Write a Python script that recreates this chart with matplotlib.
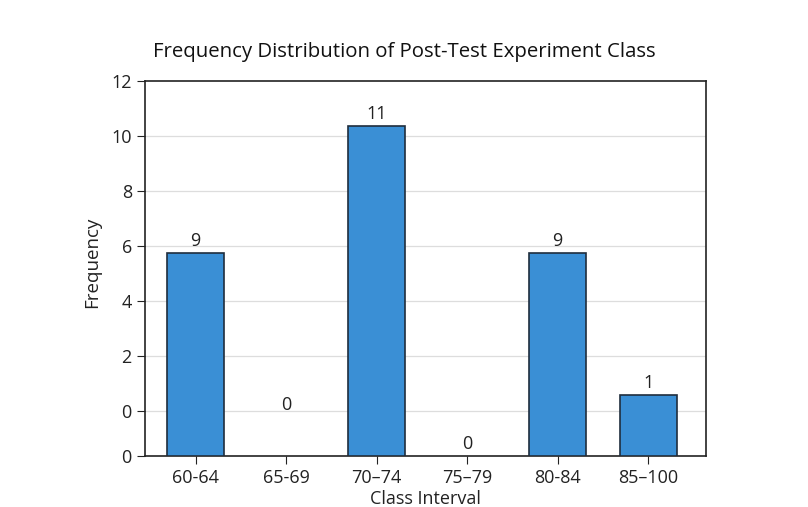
import matplotlib.pyplot as plt

plt.rcParams["font.family"] = ["Open Sans", "DejaVu Sans"]

classes = ["60-64", "65-69", "70–74", "75–79", "80-84", "85–100"]
counts = [9, 0, 11, 0, 9, 1]
# bar tops as drawn on the (odd) axis of the picture
bar_tops = [5.75, -0.2, 10.38, -1.64, 5.75, 0.58]
# the picture's y ticks: two zeros, the lower one at the floor of the axis
tick_vals = [-1.64, 0, 2, 4, 6, 8, 10, 12]
tick_labels = ["0", "0", "2", "4", "6", "8", "10", "12"]
floor = -1.64

fig = plt.figure(figsize=(8.08, 5.07), dpi=100)
ax = fig.add_axes([145 / 808, 1 - 456 / 507, 561 / 808, 375 / 507])

x = range(len(classes))
for i in x:
    if counts[i] > 0:
        ax.bar(
            i,
            bar_tops[i] - floor,
            bottom=floor,
            width=0.63,
            color="#3a8fd5",
            edgecolor="#1f2d3d",
            linewidth=1.2,
            zorder=3
        )
    ax.annotate(
        str(counts[i]),
        (i, bar_tops[i]),
        xytext=(0, 2),
        textcoords="offset points",
        ha="center",
        va="bottom",
        fontsize=13,
        color="#222222"
    )

ax.set_xlim(-0.56, 5.64)
ax.set_ylim(floor, 12)
ax.set_xticks(list(x))
ax.set_xticklabels(classes)
ax.set_yticks(tick_vals)
ax.set_yticklabels(tick_labels)
ax.tick_params(labelsize=13, colors="#222222", length=6)

for v in tick_vals[1:-1]:
    ax.axhline(v, color="#dddddd", linewidth=0.9, zorder=0)

for s in ax.spines.values():
    s.set_color("#222222")
    s.set_linewidth(1.2)

ax.set_xlabel("Class Interval", fontsize=13, color="#222222", labelpad=2)
ax.set_ylabel("Frequency", fontsize=13.5, color="#222222")
ax.yaxis.set_label_coords(-0.078, 0.517)
fig.text(
    0.5,
    1 - 52 / 507,
    "Frequency Distribution of Post-Test Experiment Class",
    fontsize=14.7,
    color="#111111",
    ha="center",
    va="center"
)

fig.savefig("out.png", dpi=100)
plt.close(fig)
